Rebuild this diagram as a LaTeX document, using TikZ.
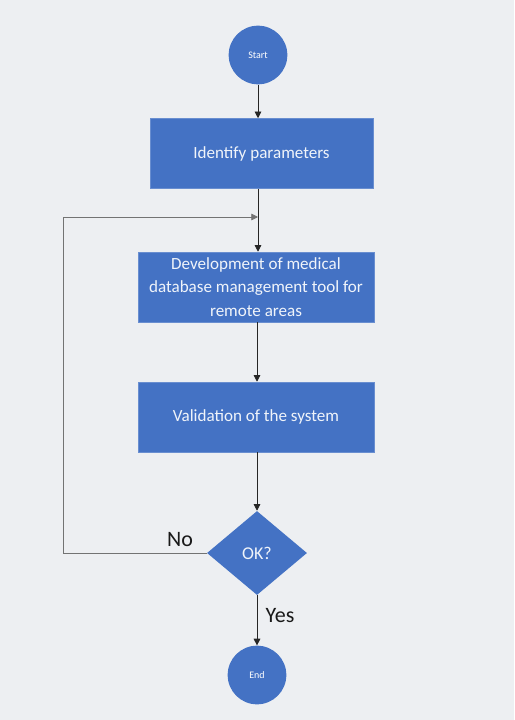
\documentclass[tikz,border=0pt]{standalone}
\usepackage{fontspec}
\setmainfont{Carlito}
\usetikzlibrary{shapes.geometric,arrows.meta}
\definecolor{boxblue}{HTML}{4472C4}
\definecolor{bggray}{HTML}{EDEFF2}
\tikzset{stepbox/.style={fill=boxblue,draw=boxblue!80!white,text=white!92!boxblue,align=center,minimum width=177pt,minimum height=52.5pt,font=\fontsize{12.8}{17.5}\selectfont},
terminal/.style={circle,fill=boxblue,text=white,minimum size=44pt,inner sep=0pt,font=\fontsize{7.5}{9}\selectfont},
decision/.style={diamond,fill=boxblue,text=white!92!boxblue,minimum width=75pt,minimum height=63pt,inner sep=0pt,font=\fontsize{13.5}{16}\selectfont},
flow/.style={-{Triangle[width=5pt,length=5pt]},black!85,line width=0.6pt},
lbl/.style={font=\fontsize{16.5}{20}\selectfont,text=black!90}}

\begin{document}
\begin{tikzpicture}[x=0.75pt,y=-0.75pt]
\fill[bggray] (0,0) rectangle (514,720);
\useasboundingbox (0,0) rectangle (514,720);
\node[terminal] (start) at (258,55) {Start};
\node[stepbox,minimum width=167pt] (ident) at (261.5,153.5) {Identify parameters};
\node[stepbox] (dev) at (256,287) {Development of medical\\database management tool for\\remote areas};
\node[stepbox] (valid) at (256,417) {Validation of the system};
\node[decision] (ok) at (257,553) {OK?};
\node[terminal] (end) at (257,675) {End};
\coordinate (junc) at (258,217);
\coordinate (corner) at (63,553);
\node[lbl] (no) at (180,540) {No};
\node[lbl] (yes) at (280,616) {Yes};
\draw[flow] (start) -- (start |- ident.north);
\draw[black!85,line width=0.6pt] (junc |- ident.south) -- (junc);
\draw[flow] (junc) -- (junc |- dev.north);
\draw[flow] (dev.south -| ok.north) -- (valid.north -| ok.north);
\draw[flow] (valid.south -| ok.north) -- (ok.north);
\draw[flow] (ok.south) -- (end.north);
\draw[flow,draw=black!55] (ok.west) -- (corner) |- (junc);
\end{tikzpicture}
\end{document}
